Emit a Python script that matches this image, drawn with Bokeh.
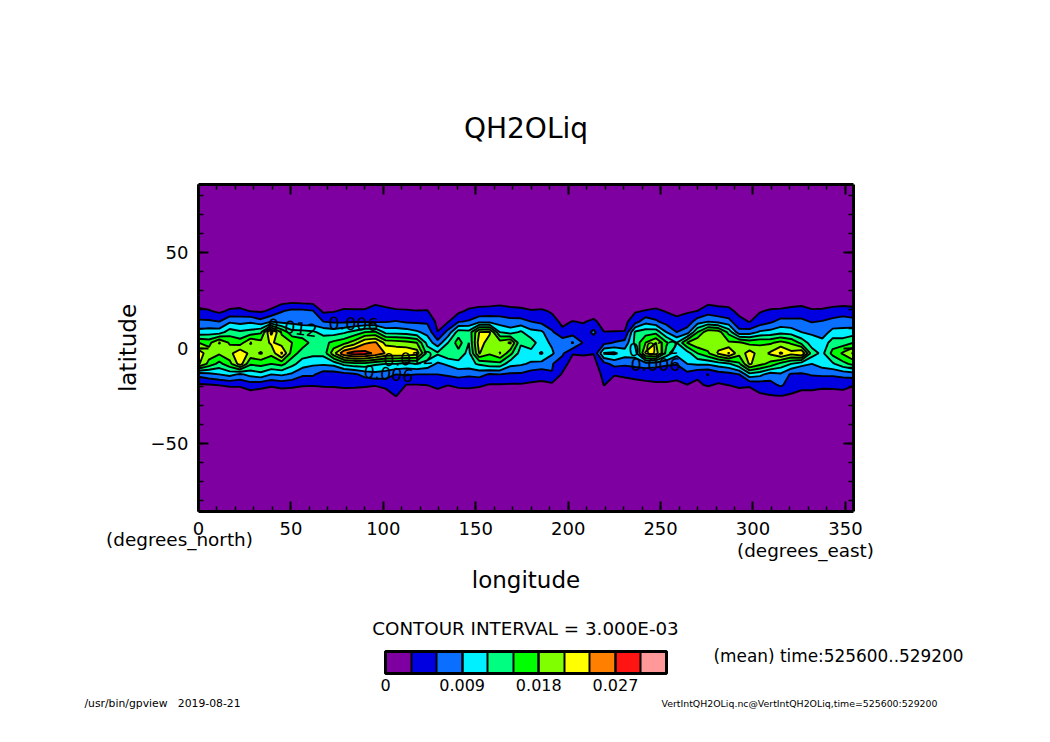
from bokeh.plotting import figure
from bokeh.embed import file_html
from bokeh.resources import INLINE
from bokeh.models import LinearAxis, FixedTicker, Label, ColorBar, LinearColorMapper
import numpy as np

longitudes = [5.625 * i for i in range(64)]
band_lats = [24.92, 19.38, 13.84, 8.31, 2.77, -2.77, -8.31, -13.84, -19.38, -24.92]
outer_north = [85.76, 30.47]
outer_south = [-30.47, -85.76]
background = 0.2
levels = [0.003 * i for i in range(12)]
colors = ["#7f00a0", "#0000e0", "#0a6eff", "#00f0ff", "#00ff80", "#00ff00",
          "#80ff00", "#ffff00", "#ff8000", "#ff1414", "#ff9999"]

columns = [
 [1.0,3.8,6.5,10,18,22.5,21.5,7,2.6,.7],
 [.8,3.3,6.5,10.5,17,19.5,17,8,2.8,.6],
 [.5,2.4,6,10.5,21.3,18.5,14,9,3.1,.6],
 [1,3.5,8.5,13.5,17.5,20,17,10,3.5,.6],
 [1,3.8,8,12.5,16.5,23.5,22.5,8.5,3.5,.7],
 [.8,2.9,8.5,13,21.2,20,15.5,10,4.5,1.5],
 [.6,2.6,7,14.5,19,21.3,16,11,4,1.2],
 [1,3.6,9,25,21.5,19,15,9,3.4,1],
 [1.5,5.8,8,17.5,19.5,24.5,16,9.5,4,1],
 [1.9,6.8,8,13,18,16.5,13,8.5,3.7,1],
 [1.6,6.7,7,13,16.5,13.5,10.5,6.5,3.3,.9],
 [1.5,6.2,7,12.5,14,13,9.5,6.5,3.2,.9],
 [.7,2.4,6,11,14,13,9.5,4.5,3.4,1],
 [.8,2.8,5.5,10.5,15.8,20,10,4.5,3.5,1],
 [1,3.5,5.5,11.5,17,26.5,13,4.8,3.8,1],
 [1,3.4,5.7,13,19.5,28.5,14,5.5,3.7,1],
 [1.1,3.4,5.7,15,23.5,28,14,7,3.5,1],
 [2,4.4,5.5,15.5,24.5,26.5,12.5,8,3.2,1],
 [1.5,3.9,5.8,11,20,23.8,12,7.5,3.8,1.5],
 [1.2,3.4,6.2,10.8,19.5,23.5,12,6,5,3.2],
 [1,3.3,5.6,10.5,19,23.5,11,6.3,2.9,1],
 [.9,3.1,5.5,9.5,18,22.5,12,6,2.9,.9],
 [1,3.2,5.5,8,11,14,11,6,3.05,1],
 [.4,.9,2.2,3.05,7,12.5,8.5,6,3.8,1.7],
 [.3,.8,2.8,7,12,14.5,9.5,6.5,3.1,.9],
 [.8,2.3,5.8,13.5,16.5,14,11,7,3.7,1.2],
 [1,3.6,6.3,13,12,11,11,6.5,3.8,1.3],
 [1.5,4,8,21,22.5,21.2,12.5,7,3.5,1],
 [1.5,4.2,8,21.5,19.5,18.5,14,5.7,2.8,.8],
 [1.7,4.5,7.5,12,19.5,21.2,14,6,2.8,.8],
 [1.4,4,7,10.5,21.5,16,10,5.5,2.7,.7],
 [1.2,3.8,7,12.5,12.5,10.5,9.5,5.5,2.7,.7],
 [1.3,3.2,6,10,13.5,11,8.5,4.5,2.5,.6],
 [1.2,3.4,5.2,9.5,10.2,12.3,8,4,2.4,.6],
 [.9,2.7,3.9,6.5,8.5,9.5,6.2,5.9,2.3,.6],
 [.3,.8,2.5,3.5,8,6.5,4.5,2.6,1,.3],
 [.3,1,3.1,4.5,9.2,3.2,1.5,.8,.3,.2],
 [.3,1,2.8,4,5.8,3.4,1.5,.7,.3,.2],
 [.3,1.6,3.5,6.8,4,3.1,2,.8,.3,.2],
 [.3,.9,2,3.05,5,12.3,5,4,3.1,.5],
 [.3,.9,2,3.1,6.2,12.6,7,3.2,1.5,.3],
 [.3,1,2.3,3.1,7,10.5,6.5,3.6,1.6,.4],
 [.7,2.7,4.7,12.5,12.8,10.5,7,3.6,2.3,.7],
 [1,3.2,8,13.5,18,21.5,7.5,3.8,2.5,.7],
 [1,3.7,6.5,14,21,22.5,7,4,2.6,.7],
 [.7,2.8,4.8,9,15.5,14,6.5,3.8,2.7,.7],
 [.5,2.2,3.8,6,12,10,6.2,3.4,2.7,.8],
 [.8,2.7,4.2,7.5,18.1,10.5,9,5,2.95,.8],
 [.9,3.05,7.5,15,20.5,15,9.5,3.4,2.6,.7],
 [2,4.5,9,20.2,20,17.5,9.5,2.95,3.3,.8],
 [1.8,4,8,19.5,19.5,21.5,10.5,4.5,2.7,.7],
 [1.8,3.7,7,14,18.5,24.3,11.5,5,3.05,1],
 [.8,2.3,3.8,7,18.5,19,14.5,6,3.8,1],
 [.9,2.3,2.9,7.3,17,22.5,21.5,11,3.3,1.8],
 [1,2.8,4.2,9.5,17.5,19.5,19,10,4,2.7],
 [1,3.4,5.5,10,17.5,21.5,17,7.5,5,2.9],
 [1,3.6,7,11,19,24.5,14,8.5,6.5,3.1],
 [1.4,4,6.8,10.5,17.5,22,12,5.5,4.5,2.7],
 [1.6,4.3,6.7,9,14,24,10,5.5,3.6,2.4],
 [1.2,3.4,5.8,8.5,10.5,13.5,9,6.3,3.6,2.4],
 [1.2,3.5,6.2,7.5,10,11.2,10.5,6.5,3.4,2.3],
 [1.5,4,7,10,13.5,16,11.5,6.5,3.5,2.2],
 [1.4,4.5,7.5,10,13.5,18.5,14,7,3.6,2.3],
 [1.3,4.2,7,10.5,15,21.5,16,7.5,3.2,1.5],
]

lat = np.array(outer_north + band_lats + outer_south)[::-1]
band = np.array(columns).T
nx = band.shape[1]
z = np.vstack([np.full((2, nx), background), band, np.full((2, nx), background)])[::-1] * 1e-3

F = "DejaVu Sans"
L, R, T, B = 198, 853, 184, 511
W, H = 1050, 742

p = figure(width=W, height=H, output_backend="svg", toolbar_location=None,
           x_range=(0, 354.375), y_range=(-85.76, 85.76),
           x_axis_type=None, y_axis_type=None,
           min_border_left=L, min_border_right=W-R, min_border_top=T, min_border_bottom=H-B)
p.grid.visible = False
p.outline_line_color = None
p.background_fill_color = "#7f00a0"

p.title.text = "QH2OLiq"
p.title.align = "center"
p.title.text_font = F
p.title.text_font_size = "28px"
p.title.text_font_style = "normal"
p.title.text_color = "black"
p.title.standoff = 79

xmaj = [0, 50, 100, 150, 200, 250, 300, 350]
xmin = [i * 10 for i in range(36)]
ymaj = [-50, 0, 50]
ymin = [i * 10 for i in range(-8, 9)]

def style(ax, labels):
    ax.axis_line_width = 3
    ax.major_tick_in = 10
    ax.major_tick_out = 0
    ax.minor_tick_in = 5
    ax.minor_tick_out = 0
    ax.major_tick_line_width = 2
    ax.minor_tick_line_width = 1.5
    if labels:
        ax.major_label_text_font = F
        ax.major_label_text_font_size = "18px"
        ax.major_label_text_color = "black"

xb = LinearAxis(ticker=FixedTicker(ticks=xmaj, minor_ticks=xmin), axis_label="longitude")
xt = LinearAxis(ticker=FixedTicker(ticks=xmaj, minor_ticks=xmin),
                major_label_overrides={v: "" for v in xmaj})
yl = LinearAxis(ticker=FixedTicker(ticks=ymaj, minor_ticks=ymin), axis_label="latitude")
yr = LinearAxis(ticker=FixedTicker(ticks=ymaj, minor_ticks=ymin),
                major_label_overrides={v: "" for v in ymaj})
for a, lab in ((xb, True), (xt, False), (yl, True), (yr, False)):
    style(a, lab)
xb.major_label_standoff = 10
yl.major_label_standoff = 10
for a in (xb, yl):
    a.axis_label_text_font = F
    a.axis_label_text_font_size = "23px"
    a.axis_label_text_font_style = "normal"
    a.axis_label_text_color = "black"
xb.axis_label_standoff = 29
yl.axis_label_standoff = 7
yl.major_label_orientation = "horizontal"
p.add_layout(xb, "below")
p.add_layout(xt, "above")
p.add_layout(yl, "left")
p.add_layout(yr, "right")

p.contour(longitudes, lat, z, levels, fill_color=colors, line_color="black", line_width=1.9)

def text(t, cx, cy, size, angle=0.0, color="black", panel="center", origin=None):
    x = cx - L
    y = B - cy if origin is None else origin - cy
    lb = Label(x=x, y=y, x_units="screen", y_units="screen", text=t,
               text_font=F, text_font_size=f"{size}px", text_align="center",
               text_baseline="middle", text_color=color, angle=angle)
    p.add_layout(lb, panel)

# contour labels
text("0.012", 292, 327, 17.5, -0.13, "black")
text("0.006", 353, 323, 17.5, -0.03, "black")
text("0.006", 388, 373, 17.5, -0.1, "black")
text("0.012", 408, 358, 17.5, 0.05, "black")
text("0.012", 653, 348, 17.5, 0.05, "black")
text("0.006", 655, 364, 17.5, 0, "black")
# page texts, each in its own strip below the axis
text("(degrees_north)", 179, 540, 18.4, panel="below", origin=617)
text("(degrees_east)", 805, 551, 18.4, panel="below", origin=638)
text("CONTOUR INTERVAL = 3.000E-03", 525, 629, 18.3, panel="below", origin=659)
text("(mean) time:525600..529200", 838, 656, 16.9, panel="below", origin=679)
text("/usr/bin/gpview\u00a0\u00a0\u00a02019-08-21", 162, 703, 10.8, panel="below", origin=691.5)
text("VertIntQH2OLiq.nc@VertIntQH2OLiq,time=525600:529200", 799, 703, 9.4, panel="below", origin=702.5)

mapper = LinearColorMapper(palette=colors, low=0, high=0.033)
cb = ColorBar(color_mapper=mapper, orientation="horizontal", width=281, height=22, padding=0, margin=0,
              location=(385 - L, B - 673 - 20),
              ticker=FixedTicker(ticks=[0, 0.009, 0.018, 0.027], minor_ticks=levels),
              major_label_overrides={0: "0", 0.009: "0.009", 0.018: "0.018", 0.027: "0.027"},
              major_label_text_font=F, major_label_text_font_size="16px", major_label_text_color="black",
              major_tick_in=22, major_tick_out=0, major_tick_line_color="black", major_tick_line_width=2,
              minor_tick_in=22, minor_tick_out=0, minor_tick_line_color="black", minor_tick_line_width=2,
              bar_line_color="black", bar_line_width=3, border_line_color=None, background_fill_color=None,
              label_standoff=5)
p.add_layout(cb, "center")

open("out.html", "w").write(file_html(p, INLINE))
